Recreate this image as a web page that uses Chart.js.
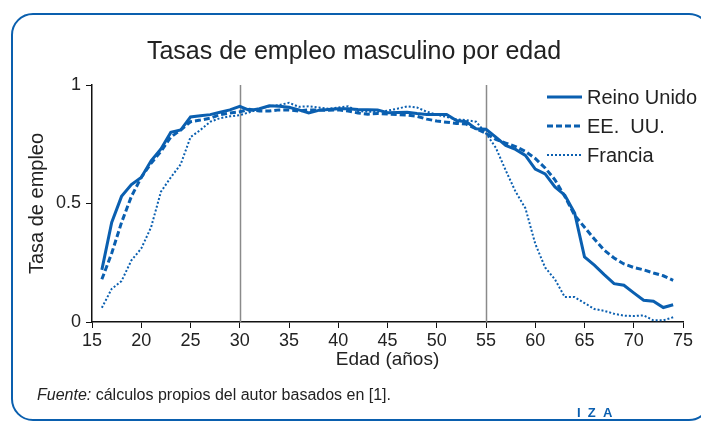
<!DOCTYPE html>
<html>
<head>
<meta charset="utf-8">
<script src="https://cdn.jsdelivr.net/npm/chart.js@4"></script>
<style>
  html, body { margin: 0; padding: 0; background: #fff; }
  #wrap { position: relative; width: 701px; height: 425px; overflow: hidden; }
  #box { position: absolute; left: 11px; top: 13px; width: 700px; height: 408px;
         border: 2.5px solid #0a5fae; border-radius: 22px; box-sizing: border-box; }
  canvas { position: absolute; left: 0; top: 0; }
</style>
</head>
<body>
<div id="wrap">
  <div id="box"></div>
  <canvas id="chart" width="701" height="425"></canvas>
</div>
<script>
const ages = [];
for (let a = 16; a <= 74; a++) ages.push(a);

const reinoUnido = [0.22, 0.42, 0.53, 0.58, 0.61, 0.68, 0.73, 0.80, 0.81, 0.865,
  0.87, 0.875, 0.885, 0.895, 0.91, 0.893, 0.90, 0.912, 0.91, 0.906,
  0.895, 0.882, 0.893, 0.897, 0.90, 0.90, 0.897, 0.896, 0.895, 0.883,
  0.884, 0.885, 0.88, 0.876, 0.876, 0.876, 0.85, 0.845, 0.815, 0.813,
  0.78, 0.745, 0.728, 0.703, 0.645, 0.625, 0.57, 0.535, 0.46, 0.275,
  0.24, 0.2, 0.162, 0.155, 0.123, 0.092, 0.088, 0.061, 0.073];

const eeuu = [0.18, 0.29, 0.42, 0.53, 0.61, 0.67, 0.72, 0.78, 0.81, 0.845,
  0.852, 0.86, 0.875, 0.882, 0.887, 0.898, 0.89, 0.89, 0.895, 0.895,
  0.89, 0.895, 0.895, 0.893, 0.895, 0.89, 0.882, 0.877, 0.88, 0.878,
  0.875, 0.873, 0.868, 0.856, 0.848, 0.843, 0.838, 0.835, 0.815, 0.796,
  0.77, 0.755, 0.74, 0.72, 0.69, 0.65, 0.6, 0.53, 0.45, 0.4,
  0.35, 0.303, 0.27, 0.245, 0.23, 0.22, 0.207, 0.195, 0.176];

const francia = [0.06, 0.14, 0.173, 0.26, 0.31, 0.40, 0.55, 0.61, 0.665, 0.78,
  0.81, 0.845, 0.86, 0.868, 0.873, 0.885, 0.9, 0.91, 0.915, 0.925,
  0.908, 0.91, 0.905, 0.9, 0.905, 0.91, 0.89, 0.887, 0.887, 0.892,
  0.9, 0.91, 0.905, 0.887, 0.875, 0.865, 0.855, 0.852, 0.845, 0.796,
  0.735, 0.64, 0.55, 0.48, 0.33, 0.23, 0.18, 0.105, 0.105, 0.08,
  0.055, 0.047, 0.035, 0.027, 0.025, 0.028, 0.007, 0.007, 0.02];

const refLines = [30, 55];
const seriesNames = ["Reino Unido", "EE.  UU.", "Francia"];

const BLUE = "#0a5fb0";
const FONT = "'Liberation Sans', Arial, sans-serif";

function toPoints(vals) {
  return vals.map((v, i) => ({ x: ages[i], y: v }));
}

const extras = {
  id: "extras",
  beforeDatasetsDraw(chart) {
    const { ctx, chartArea, scales } = chart;
    ctx.save();
    ctx.strokeStyle = "#8a8a8a";
    ctx.lineWidth = 1.5;
    refLines.forEach(v => {
      const x = Math.round(scales.x.getPixelForValue(v)) + 0.5;
      ctx.beginPath();
      ctx.moveTo(x, chartArea.top);
      ctx.lineTo(x, chartArea.bottom);
      ctx.stroke();
    });
    ctx.restore();
  },
  afterDraw(chart) {
    const { ctx, chartArea } = chart;
    ctx.save();
    // y axis title
    ctx.fillStyle = "#222";
    ctx.font = "20px " + FONT;
    ctx.textAlign = "center";
    ctx.textBaseline = "middle";
    ctx.translate(37, (chartArea.top + chartArea.bottom) / 2);
    ctx.rotate(-Math.PI / 2);
    ctx.fillText("Tasa de empleo", 0, 0);
    ctx.restore();

    // legend
    ctx.save();
    const dashes = [[], [6, 3], [2, 2]];
    const widths = [3, 3, 2];
    ctx.font = "20px " + FONT;
    ctx.textBaseline = "middle";
    ctx.fillStyle = "#222";
    seriesNames.forEach((name, i) => {
      const y = 97 + i * 29;
      ctx.strokeStyle = BLUE;
      ctx.lineWidth = widths[i];
      ctx.setLineDash(dashes[i]);
      ctx.beginPath();
      ctx.moveTo(547, y);
      ctx.lineTo(582, y);
      ctx.stroke();
      ctx.fillText(name, 587, y + 1);
    });
    ctx.restore();

    // footer
    ctx.save();
    ctx.fillStyle = "#222";
    ctx.textBaseline = "middle";
    ctx.font = "italic 16px " + FONT;
    ctx.fillText("Fuente:", 37, 396);
    const w = ctx.measureText("Fuente: ").width;
    ctx.font = "16px " + FONT;
    ctx.fillText("cálculos propios del autor basados en [1].", 37 + w, 396);
    ctx.fillStyle = BLUE;
    ctx.font = "bold 13px " + FONT;
    ctx.fillText("I  Z  A", 577, 413);
    ctx.restore();
  }
};

new Chart(document.getElementById("chart"), {
  type: "line",
  data: {
    datasets: [
      { label: seriesNames[0], data: toPoints(reinoUnido), borderColor: BLUE,
        borderWidth: 3, pointRadius: 0, tension: 0 },
      { label: seriesNames[1], data: toPoints(eeuu), borderColor: BLUE,
        borderWidth: 3, borderDash: [6, 3], pointRadius: 0, tension: 0 },
      { label: seriesNames[2], data: toPoints(francia), borderColor: BLUE,
        borderWidth: 2, borderDash: [2, 2], pointRadius: 0, tension: 0 }
    ]
  },
  options: {
    responsive: false,
    animation: false,
    layout: { padding: { left: 25, right: 18, top: 0, bottom: 54 } },
    plugins: {
      legend: { display: false },
      tooltip: { enabled: false },
      title: {
        display: true,
        text: "Tasas de empleo masculino por edad",
        color: "#222",
        font: { family: FONT, size: 25, weight: "normal" },
        padding: { top: 37, bottom: 18 }
      }
    },
    scales: {
      x: {
        type: "linear",
        min: 15, max: 75,
        afterFit(s) { s.height = 49; },
        ticks: { stepSize: 5, color: "#222", font: { family: FONT, size: 18 }, padding: 2, maxRotation: 0 },
        grid: { drawOnChartArea: false, color: "#111", tickLength: 6 },
        border: { color: "#111", width: 1.5 },
        title: { display: true, text: "Edad (años)", color: "#222",
                 font: { family: FONT, size: 19 }, padding: { top: 0, bottom: 0 } }
      },
      y: {
        min: 0, max: 1,
        afterFit(s) { s.width = 67; },
        ticks: { stepSize: 0.5, color: "#222", font: { family: FONT, size: 18 }, padding: 5,
                 callback: v => String(v) },
        grid: { drawOnChartArea: false, color: "#111", tickLength: 6 },
        border: { color: "#111", width: 1.5 }
      }
    }
  },
  plugins: [extras]
});
</script>
</body>
</html>
